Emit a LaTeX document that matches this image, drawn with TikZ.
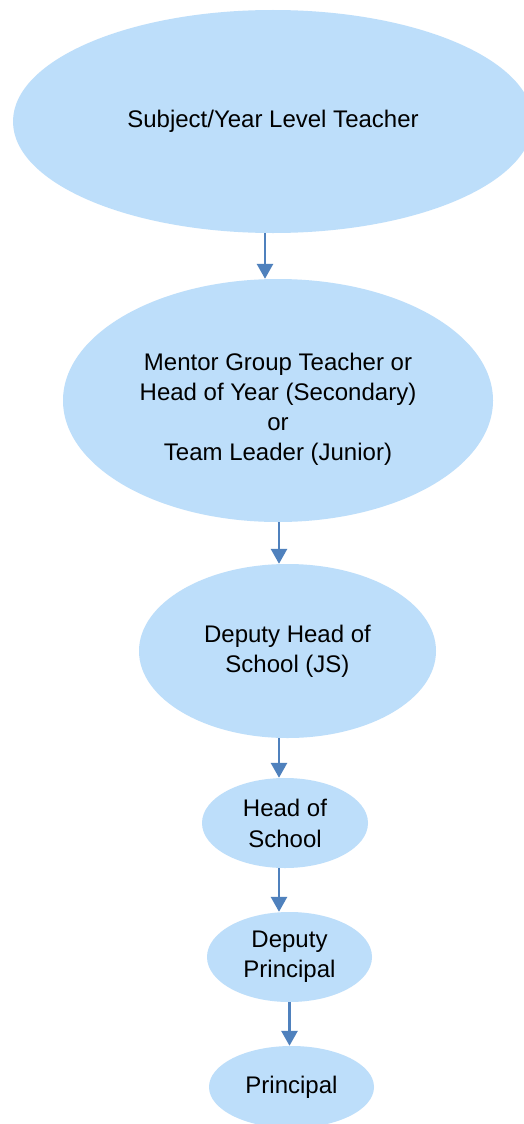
\documentclass[tikz,border=0pt]{standalone}
\usepackage{fontspec}
\setmainfont{Liberation Sans}
\usepackage{xcolor}
\usepackage{tikz}
\usetikzlibrary{positioning, arrows.meta, shapes.geometric}

\definecolor{roleblue}{RGB}{189,222,250}
\definecolor{linkblue}{RGB}{79,129,189}

\begin{document}
\begin{tikzpicture}[
    x=1pt, y=-1pt,
    role/.style={ellipse, fill=roleblue, inner sep=0pt, align=center, font=\fontsize{24}{30}\selectfont},
    arrow/.style={-{Triangle[width=16pt, length=15pt]}, line width=2.8pt, draw=linkblue}
]
\clip (0,0) rectangle (524,1124);
\fill[white] (0,0) rectangle (524,1124);

% Reporting levels
\node[role, minimum width=520pt, minimum height=223pt] (teacher) at (273,121.5) {Subject/Year Level Teacher};
\node[role, minimum width=430pt, minimum height=243pt] (mentor) at (278,400.5) {\rule{0pt}{35pt}Mentor Group Teacher or\\Head of Year (Secondary)\\or\\Team Leader (Junior)};
\node[role, minimum width=297pt, minimum height=174pt] (deputyhead) at (287.5,651) {Deputy Head of\\School (JS)};
\node[role, minimum width=166pt, minimum height=90pt] (head) at (285,823) {Head of\\[1pt]School};
\node[role, minimum width=165pt, minimum height=90pt] (deputyprin) at (289.5,957) {Deputy\\Principal};
\node[role, minimum width=165pt, minimum height=82pt] (principal) at (291.5,1087) {Principal};

% Arrows
\draw[arrow] ([xshift=-8pt]teacher.south) -- ([xshift=-8pt]teacher.south |- mentor.north);
\draw[arrow] ([xshift=1pt]mentor.south) -- ([xshift=1pt]mentor.south |- deputyhead.north);
\draw[arrow] ([xshift=-8.5pt]deputyhead.south) -- ([xshift=-8.5pt]deputyhead.south |- head.north);
\draw[arrow] ([xshift=-6pt]head.south) -- ([xshift=-6pt]head.south |- deputyprin.north);
\draw[arrow] (deputyprin.south) -- (deputyprin.south |- principal.north);
\end{tikzpicture}
\end{document}
